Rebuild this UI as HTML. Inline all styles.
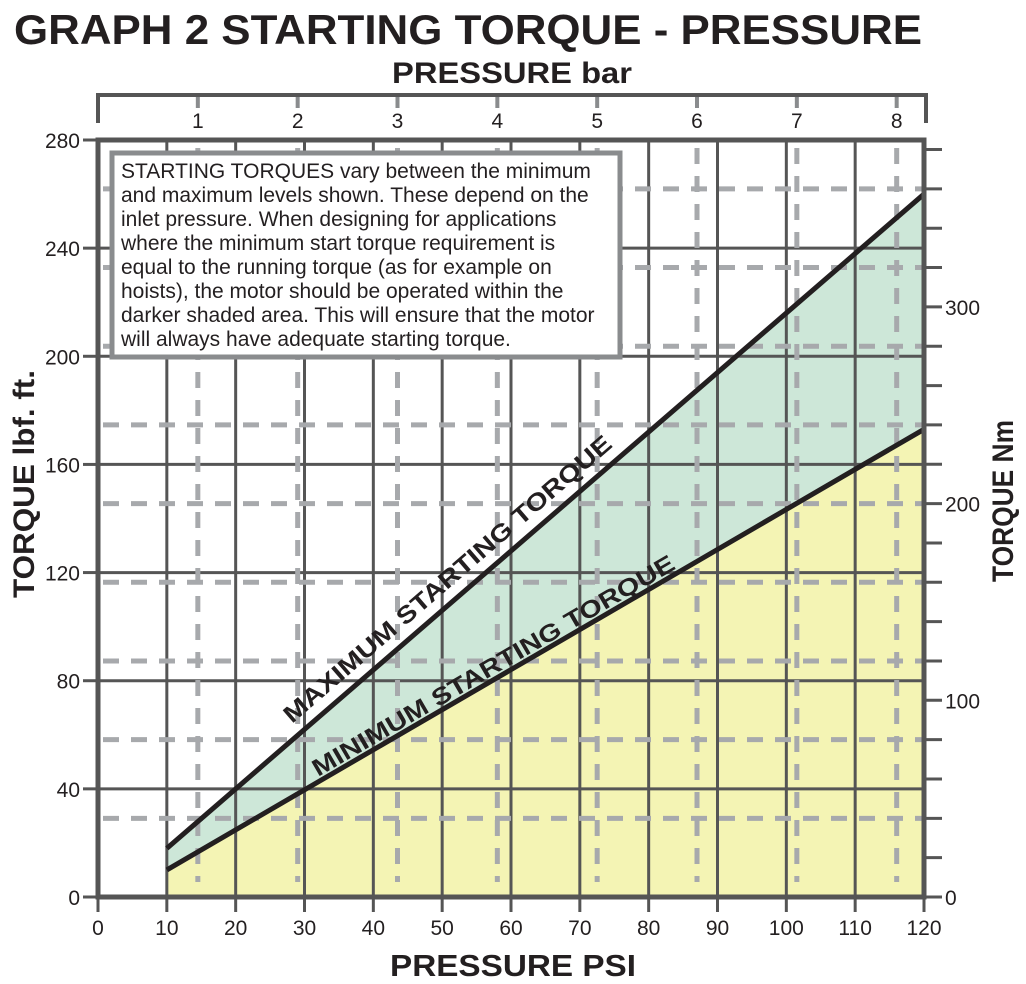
<!DOCTYPE html>
<html><head><meta charset="utf-8"><style>
html,body{margin:0;padding:0;background:#fff;}
svg{display:block;font-family:"Liberation Sans",sans-serif;}
</style></head><body>
<svg id="chart" width="1026" height="984" viewBox="0 0 1026 984" xmlns="http://www.w3.org/2000/svg">
<text x="14" y="44" font-size="42" font-weight="bold" fill="#231f20" textLength="908" lengthAdjust="spacingAndGlyphs">GRAPH 2 STARTING TORQUE - PRESSURE</text>
<text x="512" y="83" font-size="30" font-weight="bold" fill="#231f20" text-anchor="middle" textLength="240" lengthAdjust="spacingAndGlyphs">PRESSURE bar</text>
<text x="513" y="976" font-size="31" font-weight="bold" fill="#231f20" text-anchor="middle" textLength="246" lengthAdjust="spacingAndGlyphs">PRESSURE PSI</text>
<text transform="translate(34,484) rotate(-90)" font-size="30" font-weight="bold" fill="#231f20" text-anchor="middle" textLength="228" lengthAdjust="spacingAndGlyphs">TORQUE lbf. ft.</text>
<text transform="translate(1013,501) rotate(-90)" font-size="30" font-weight="bold" fill="#231f20" text-anchor="middle" textLength="162" lengthAdjust="spacingAndGlyphs">TORQUE Nm</text>
<g id="g"></g>
</svg>
<script>
const psiTicks=[0,10,20,30,40,50,60,70,80,90,100,110,120];
const lbfTicks=[0,40,80,120,160,200,240,280];
const nmLabels=[0,100,200,300];
const barTicks=[1,2,3,4,5,6,7,8];
const linePsi=[10,120];
const maxTorque=[18,260];
const minTorque=[10,173];
const NS="http://www.w3.org/2000/svg";
const X0=98,X1=924,Y0=897,Y1=140;
const x=p=>X0+(p/120)*(X1-X0);
const y=t=>Y0-(t/280)*(Y0-Y1);
const yNm=n=>Y0-n*1.967;
const g=document.getElementById('g');
function el(tag,a,txt){const e=document.createElementNS(NS,tag);for(const k in a)e.setAttribute(k,a[k]);if(txt!==undefined)e.textContent=txt;g.appendChild(e);return e;}
const pts=(ys)=>linePsi.map((p,i)=>x(p)+','+y(ys[i])).join(' ');
let e=el('polygon',{points:pts(minTorque)+' '+x(120)+','+Y0+' '+x(10)+','+Y0,fill:'#f4f4b4'});


e=el('polygon',{points:pts(maxTorque)+' '+[...linePsi].reverse().map((p,i)=>x(p)+','+y(minTorque[linePsi.length-1-i])).join(' '),fill:'#cde7d8'});


psiTicks.slice(1,-1).forEach(p=>{const l=el('line',{x1:x(p),x2:x(p),y1:Y1,y2:Y0,stroke:'#555',"stroke-width":3});

});
lbfTicks.slice(1,-1).forEach(t=>{const l=el('line',{x1:X0,x2:X1,y1:y(t),y2:y(t),stroke:'#555',"stroke-width":3});

});
barTicks.forEach(b=>{const l=el('line',{x1:x(b*14.5038),x2:x(b*14.5038),y1:Y1+8,y2:Y0-15,stroke:'#a7a9ac',"stroke-width":5,"stroke-dasharray":"16 12"});


const t=el('line',{x1:x(b*14.5038),x2:x(b*14.5038),y1:95,y2:108,stroke:'#8a8c8e',"stroke-width":4});


const s=el('text',{x:x(b*14.5038),y:128,"font-size":21,"text-anchor":"middle",fill:'#231f20'},String(b));

});
for(let n=40;n<=360;n+=40){const l=el('line',{x1:X0+5,x2:X1-2,y1:yNm(n),y2:yNm(n),stroke:'#a7a9ac',"stroke-width":5,"stroke-dasharray":"16 12"});

}
e=el('rect',{x:112,y:153,width:508,height:204,fill:'#fff',stroke:'#8a8c8e',"stroke-width":5});


const note=["STARTING TORQUES vary between the minimum","and maximum levels shown. These depend on the","inlet pressure. When designing for applications","where the minimum start torque requirement is","equal to the running torque (as for example on","hoists), the motor should be operated within the","darker shaded area. This will ensure that the motor","will always have adequate starting torque."];
note.forEach((s,i)=>{const t=el('text',{x:121,y:178+i*24,"font-size":21,fill:'#231f20'},s);

});
e=el('polyline',{points:pts(maxTorque),fill:'none',stroke:'#231f20',"stroke-width":5});


e=el('polyline',{points:pts(minTorque),fill:'none',stroke:'#231f20',"stroke-width":5});


const angMax=Math.atan2(y(maxTorque[1])-y(maxTorque[0]),x(120)-x(10))*180/Math.PI;
const angMin=Math.atan2(y(minTorque[1])-y(minTorque[0]),x(120)-x(10))*180/Math.PI;
e=el('text',{transform:`translate(292,724) rotate(${angMax})`,"font-size":24,"font-weight":"bold",fill:'#231f20',textLength:425,lengthAdjust:'spacingAndGlyphs'},"MAXIMUM STARTING TORQUE");


e=el('text',{transform:`translate(318,777) rotate(${angMin})`,"font-size":24,"font-weight":"bold",fill:'#231f20',textLength:415,lengthAdjust:'spacingAndGlyphs'},"MINIMUM STARTING TORQUE");


e=el('rect',{x:X0,y:Y1,width:X1-X0,height:Y0-Y1,fill:'none',stroke:'#555',"stroke-width":5});


e=el('polyline',{points:`${X0},123 ${X0},95 ${X1+2},95 ${X1+2},123`,fill:'none',stroke:'#555',"stroke-width":4});


psiTicks.forEach(p=>{const l=el('line',{x1:x(p),x2:x(p),y1:Y0,y2:Y0+15,stroke:'#555',"stroke-width":3});


const t=el('text',{x:x(p),y:935,"font-size":21,"text-anchor":"middle",fill:'#231f20'},String(p));

});
lbfTicks.forEach(v=>{const l=el('line',{x1:X0-15,x2:X0,y1:y(v),y2:y(v),stroke:'#555',"stroke-width":3});


const t=el('text',{x:80,y:y(v)+8,"font-size":21,"text-anchor":"end",fill:'#231f20'},String(v));

});
for(let n=0;n<=380;n+=20){const l=el('line',{x1:X1,x2:X1+18,y1:yNm(n),y2:yNm(n),stroke:'#555',"stroke-width":3});

}
nmLabels.forEach(n=>{const t=el('text',{x:945,y:yNm(n)+8,"font-size":21,fill:'#231f20'},String(n));

});
</script>
</body></html>
